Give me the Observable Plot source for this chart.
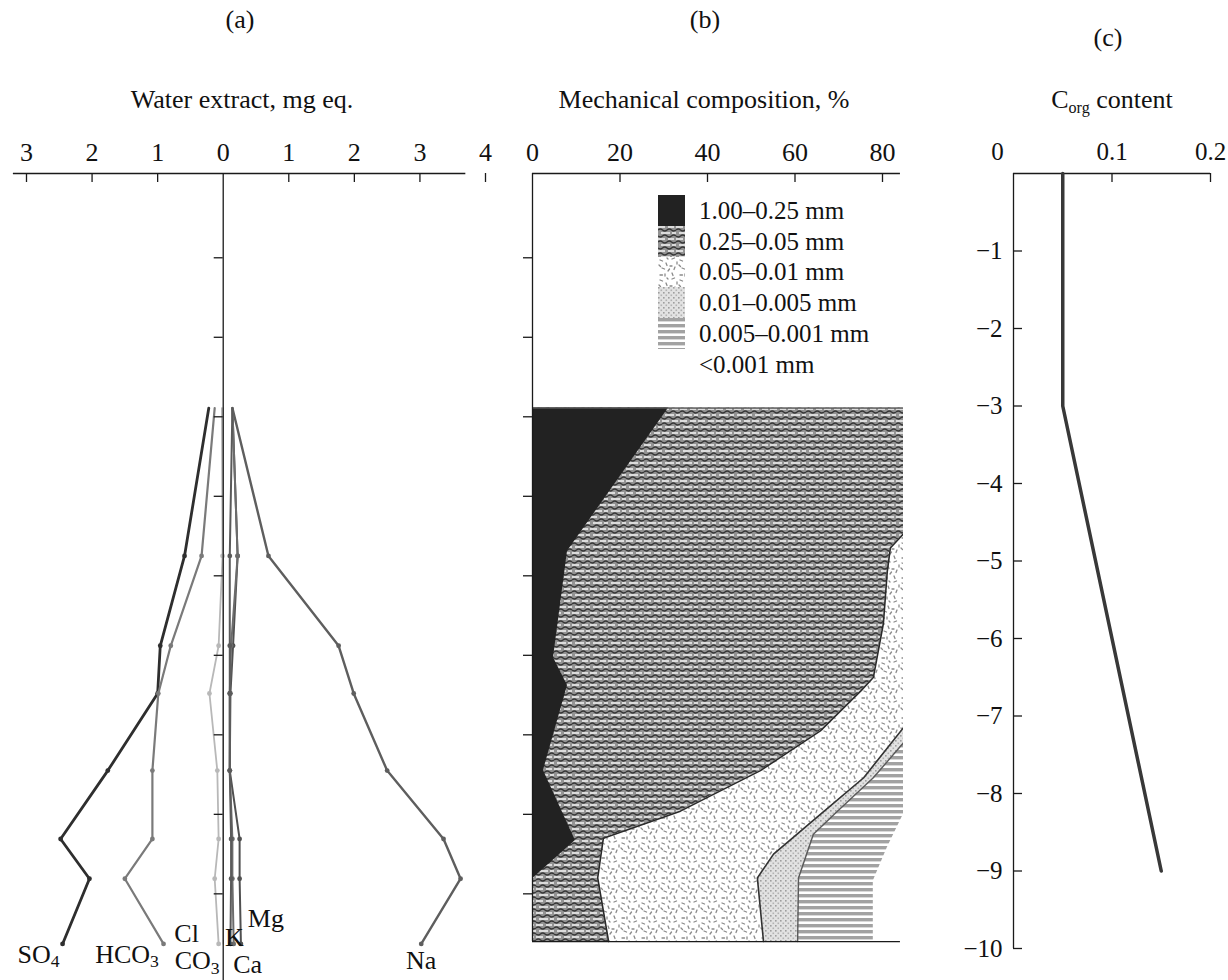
<!DOCTYPE html>
<html><head><meta charset="utf-8">
<script src="https://cdn.jsdelivr.net/npm/d3@7"></script>
<script src="https://cdn.jsdelivr.net/npm/@observablehq/plot@0.6"></script>
<style>
body{margin:0;background:#fff;font-family:"Liberation Serif","Times New Roman",serif;color:#111;}
#root{position:relative;width:1228px;height:980px;overflow:hidden;background:#fff;}
.lbl{position:absolute;transform:translate(-50%,-50%);font-size:26px;line-height:1;white-space:nowrap;}
.lbl sub{font-size:0.62em;vertical-align:-0.3em;line-height:0;}
.panel{position:absolute;top:0;}
#legend{position:absolute;left:658px;top:195px;}
.row{display:flex;align-items:center;height:30.8px;}
.sw{width:27px;height:31px;margin-right:14px;flex:none;display:block}
.row span{font-size:25px;line-height:1}
</style></head>
<body><div id="root">
<svg width="0" height="0" style="position:absolute;left:0;top:0"><defs>
<pattern id="pCoarse" patternUnits="userSpaceOnUse" width="18" height="12">
  <rect width="18" height="12" fill="#939393"/>
  <path d="M0 1 H7 M10 1 H16 M3 7 H12 M14 7 H18" stroke="#f4f4f4" stroke-width="1.4"/>
  <path d="M0 4 q2.2 -2 4.5 0 t4.5 0 t4.5 0 t4.5 0 M0 10 q2.2 2 4.5 0 t4.5 0 t4.5 0 t4.5 0" stroke="#363636" stroke-width="1.3" fill="none"/>
</pattern>
<pattern id="pSpeck" patternUnits="userSpaceOnUse" width="20" height="20">
  <rect width="20" height="20" fill="#fff"/>
  <path d="M2 3 l2.5 1 M8 6 l1 2.5 M14 2 l2.5 -1 M17 10 l-1 2.5 M4 11 l2.5 1 M10 14 l1.5 -2 M2 18 l2.5 0 M14 16 l1 2.5 M9 1 l1 1 M12 9 l2 0 M7 17 l0 2 M19 5 l0 2 M1 8 l1.5 1.5" stroke="#8a8a8a" stroke-width="1.3" stroke-linecap="round"/>
</pattern>
<pattern id="pStipple" patternUnits="userSpaceOnUse" width="5" height="5">
  <rect width="5" height="5" fill="#e2e2e2"/>
  <rect x="0" y="0" width="1.6" height="1.6" fill="#9e9e9e"/>
  <rect x="2.5" y="2.5" width="1.6" height="1.6" fill="#b2b2b2"/>
</pattern>
<pattern id="pLines" patternUnits="userSpaceOnUse" width="10" height="6">
  <rect width="10" height="6" fill="#fff"/>
  <rect y="0" width="10" height="3.4" fill="#a2a2a2"/>
</pattern>
</defs></svg>
</div>
<script>
// ---------- Panel (a): water extract, mg eq. ----------
const depthA = [-2.89, -4.75, -5.88, -6.48, -7.45, -8.31, -8.81, -9.63];
const so4  = [0.22, 0.59, 0.96, 1.00, 1.76, 2.48, 2.04, 2.45];
const hco3 = [0.13, 0.33, 0.80, 0.99, 1.08, 1.08, 1.50, 0.91];
const cl   = [0.02, 0.01, 0.07, 0.21, 0.09, 0.07, 0.13, 0.07];
const co3  = [0, 0, 0, 0, 0, 0, 0, 0];
const na   = [0.14, 0.69, 1.76, 1.99, 2.50, 3.36, 3.62, 3.02];
const mg   = [0.14, 0.22, 0.15, 0.11, 0.10, 0.25, 0.25, 0.27];
const ca   = [0.14, 0.22, 0.12, 0.10, 0.10, 0.14, 0.14, 0.16];
const k    = [0.14, 0.10, 0.10, 0.10, 0.10, 0.12, 0.12, 0.11];
const anionNames = ["SO4", "HCO3", "Cl", "CO3"];
const cationNames = ["Na", "Mg", "Ca", "K"];
const xTicksA = [-3, -2, -1, 0, 1, 2, 3, 4];
const depthTicksAB = [-1, -2, -3, -4, -5, -6, -7, -8, -9];

// ---------- Panel (b): mechanical composition, % (cumulative right edges) ----------
const fractionNames = ["1.00–0.25 mm", "0.25–0.05 mm", "0.05–0.01 mm", "0.01–0.005 mm", "0.005–0.001 mm", "<0.001 mm"];
const edge1Depth = [-2.89, -4.69, -6.03, -6.38, -7.45, -8.33, -8.80, -9.60];
const edge1Pct   = [31.1, 8.0, 4.8, 8.0, 2.5, 9.8, 0.2, 0];
const edge2Depth = [-2.89, -4.47, -4.65, -4.94, -5.60, -6.28, -6.45, -6.95, -7.45, -7.96, -8.30, -8.80, -9.60];
const edge2Pct   = [92, 84.8, 81.8, 81.1, 80.2, 77.9, 75.0, 65.8, 52.1, 33.8, 16.2, 14.9, 17.4];
const edge3Depth = [-2.89, -6.91, -7.54, -8.00, -8.50, -8.80, -9.60];
const edge3Pct   = [100, 84.8, 75.7, 65.8, 55.1, 51.4, 52.8];
const edge4Depth = [-2.89, -7.10, -7.54, -7.96, -8.25, -8.80, -9.60];
const edge4Pct   = [100, 84.8, 77.9, 69.7, 64.2, 60.8, 60.6];
const edge5Depth = [-2.89, -8.00, -8.42, -8.84, -9.60];
const edge5Pct   = [100, 84.8, 81.1, 77.9, 77.9];
const xTicksB = [0, 20, 40, 60, 80];

// ---------- Panel (c): Corg content ----------
const corgDepth = [0, -3, -9];
const corg = [0.05, 0.05, 0.15];
const xTicksC = [0.1, 0.2];
const depthTicksC = [-1, -2, -3, -4, -5, -6, -7, -8, -9, -10];

// ---------- styles ----------
const ionStyle = {
  SO4: {stroke: "#2e2e2e", w: 2.8}, HCO3: {stroke: "#7a7a7a", w: 2.2}, Cl: {stroke: "#b8b8b8", w: 1.8}, CO3: {stroke: "#c8c8c8", w: 1.5},
  Na: {stroke: "#5e5e5e", w: 2.4}, Mg: {stroke: "#505050", w: 2.0}, Ca: {stroke: "#6c6c6c", w: 2.0}, K: {stroke: "#5a5a5a", w: 2.0}
};
const labelOffset = {SO4: [-24, 10.5], HCO3: [-36.5, 10.5], Cl: [-32, -10], CO3: [-26, 17], K: [4, -6], Mg: [25, -25], Ca: [14, 21], Na: [0, 17]};
const fractionFill = ["#222", "url(#pCoarse)", "url(#pSpeck)", "url(#pStipple)", "url(#pLines)", "none"];
const AX = "#1a1a1a";
const FONT = '"Liberation Serif","Times New Roman",serif';

const root = document.getElementById("root");
function place(el, left) { el.classList.add("panel"); el.style.left = left + "px"; root.appendChild(el); }
function label(html, cx, cy) { const d = document.createElement("div"); d.className = "lbl"; d.innerHTML = html; d.style.left = cx + "px"; d.style.top = cy + "px"; root.appendChild(d); }

// ----- build ion table
const ionSeries = {SO4: so4, HCO3: hco3, Cl: cl, CO3: co3, Na: na, Mg: mg, Ca: ca, K: k};
const ionRows = [];
for (const name of anionNames) depthA.forEach((d, i) => ionRows.push({ion: name, depth: d, v: -ionSeries[name][i]}));
for (const name of cationNames) depthA.forEach((d, i) => ionRows.push({ion: name, depth: d, v: ionSeries[name][i]}));

const Y_TOP = 0.06, Y_BOT = -10.09;

const marksA = [];
for (const name of [...anionNames, ...cationNames]) {
  const rows = ionRows.filter(r => r.ion === name);
  const s = ionStyle[name];
  marksA.push(Plot.line(rows, {x: "v", y: "depth", stroke: s.stroke, strokeWidth: s.w}));
  if (name !== "CO3") marksA.push(Plot.dot(rows.slice(1), {x: "v", y: "depth", r: 2.4, fill: s.stroke}));
}
marksA.push(
  Plot.ruleY([Y_TOP], {x1: -3.2, x2: 3.7, stroke: AX, strokeWidth: 1.3}),
  Plot.ruleX(xTicksA.filter(d => d !== 0), {x: d => d, y1: Y_TOP, y2: Y_TOP, insetBottom: -9, stroke: AX, strokeWidth: 1.3}),
  Plot.axisX({anchor: "top", ticks: xTicksA, tickSize: 0, tickPadding: 13, label: null, tickFormat: d => String(Math.abs(d))}),
  Plot.ruleX([0], {stroke: AX, strokeWidth: 1.3}),
  Plot.ruleY(depthTicksAB, {y: d => d, x1: 0, x2: 0, insetLeft: -9, stroke: AX, strokeWidth: 1.3})
);
for (const name of [...anionNames, ...cationNames]) {
  const rows = ionRows.filter(r => r.ion === name);
  const last = rows[rows.length - 1];
  const [dx, dy] = labelOffset[name];
  marksA.push(Plot.text([last], {x: "v", y: "depth", text: d => d.ion, dx, dy, fontSize: 26, fill: "#111"}));
}
const plotA = Plot.plot({
  width: 500, height: 980, marginLeft: 26, marginRight: 15, marginTop: 173, marginBottom: 0,
  x: {domain: [-3, 4], label: null}, y: {domain: [Y_BOT, Y_TOP], axis: null, label: null},
  style: {fontFamily: FONT, fontSize: "26px", background: "transparent", overflow: "visible", color: "#111"},
  marks: marksA
});
const ionSet = new Set([...anionNames, ...cationNames]);
d3.select(plotA).selectAll("text").each(function () {
  const t = this.textContent;
  if (!ionSet.has(t)) return;
  const m = t.match(/^(\D+)(\d)$/);
  if (m) {
    this.textContent = "";
    const a = document.createElementNS("http://www.w3.org/2000/svg", "tspan"); a.textContent = m[1]; this.appendChild(a);
    const b = document.createElementNS("http://www.w3.org/2000/svg", "tspan"); b.textContent = m[2];
    b.setAttribute("dy", "0.25em"); b.setAttribute("font-size", "0.68em"); this.appendChild(b);
  }
});
place(plotA, 0);

// ----- panel b
const edges = [
  edge1Depth.map((d, i) => ({depth: d, v: edge1Pct[i]})),
  edge2Depth.map((d, i) => ({depth: d, v: edge2Pct[i]})),
  edge3Depth.map((d, i) => ({depth: d, v: edge3Pct[i]})),
  edge4Depth.map((d, i) => ({depth: d, v: edge4Pct[i]})),
  edge5Depth.map((d, i) => ({depth: d, v: edge5Pct[i]}))
];
const bottomB = edge1Depth[edge1Depth.length - 1];
const marksB = [];
for (let j = 4; j >= 0; j--) marksB.push(Plot.areaX(edges[j], {y: "depth", x1: 0, x2: "v", fill: fractionFill[j], clip: true}));
marksB.push(Plot.ruleY([edge1Depth[0]], {x1: 0, x2: 84.8, stroke: "#555", strokeWidth: 1.2, clip: true}));
marksB.push(Plot.lineX(edges[1], {x: "v", y: "depth", stroke: "#2a2a2a", strokeWidth: 1.6, clip: true}));
marksB.push(Plot.lineX(edges[2], {x: "v", y: "depth", stroke: "#333", strokeWidth: 1.6, clip: true}));
marksB.push(Plot.lineX(edges[3], {x: "v", y: "depth", stroke: "#5a5a5a", strokeWidth: 1.4, clip: true}));
marksB.push(
  Plot.ruleY([Y_TOP], {x1: 0, x2: 84.1, stroke: AX, strokeWidth: 1.3}),
  Plot.ruleY([bottomB], {x1: 0, x2: 84.1, stroke: AX, strokeWidth: 1.3}),
  Plot.ruleX([0], {y1: Y_TOP, y2: bottomB, stroke: AX, strokeWidth: 1.3}),
  Plot.ruleX(xTicksB.filter(d => d !== 0), {x: d => d, y1: Y_TOP, y2: Y_TOP, insetBottom: -9, stroke: AX, strokeWidth: 1.3}),
  Plot.ruleY(depthTicksAB, {y: d => d, x1: 0, x2: 0, insetLeft: -9, stroke: AX, strokeWidth: 1.3}),
  Plot.axisX({anchor: "top", ticks: xTicksB, tickSize: 0, tickPadding: 13, label: null, tickFormat: d => String(d)})
);
const plotB = Plot.plot({
  width: 420, height: 980, marginLeft: 32, marginRight: 17, marginTop: 173, marginBottom: 0,
  x: {domain: [0, 84.8], label: null}, y: {domain: [Y_BOT, Y_TOP], axis: null, label: null},
  style: {fontFamily: FONT, fontSize: "26px", background: "transparent", overflow: "visible", color: "#111"},
  marks: marksB
});
place(plotB, 500);

// legend (b)
const legend = document.createElement("div"); legend.id = "legend";
fractionNames.forEach((name, i) => {
  const row = document.createElement("div"); row.className = "row";
  const sw = fractionFill[i] === "none" ? '<svg class="sw"></svg>'
    : `<svg class="sw" viewBox="0 0 27 31"><rect width="27" height="31" fill="${fractionFill[i]}"/></svg>`;
  row.innerHTML = sw + `<span>${name.replace("<", "&lt;")}</span>`;
  legend.appendChild(row);
});
root.appendChild(legend);

// ----- panel c
const corgRows = corgDepth.map((d, i) => ({depth: d, v: corg[i]}));
const plotC = Plot.plot({
  width: 298, height: 980, marginLeft: 83, marginRight: 18, marginTop: 173, marginBottom: 32,
  x: {domain: [0, 0.2], label: null}, y: {domain: [-10, 0], label: null},
  style: {fontFamily: FONT, fontSize: "25px", background: "transparent", overflow: "visible", color: "#111"},
  marks: [
    Plot.ruleY([0], {stroke: AX, strokeWidth: 1.3}),
    Plot.ruleX([0], {stroke: AX, strokeWidth: 1.3}),
    Plot.ruleX(xTicksC, {x: d => d, y1: 0, y2: 0, insetBottom: -9, stroke: AX, strokeWidth: 1.3}),
    Plot.ruleY(depthTicksC, {y: d => d, x1: 0, x2: 0, insetRight: -9, stroke: AX, strokeWidth: 1.3}),
    Plot.axisX({anchor: "top", ticks: xTicksC, tickSize: 0, tickPadding: 14, label: null, tickFormat: d => String(d)}),
    Plot.text([0], {x: d => d, frameAnchor: "top", lineAnchor: "bottom", dy: -14, dx: -16, text: d => String(d)}),
    Plot.axisY({anchor: "left", ticks: depthTicksC, tickSize: 0, tickPadding: 11, label: null, tickFormat: d => "−" + Math.abs(d)}),
    Plot.line(corgRows, {x: "v", y: "depth", stroke: "#383838", strokeWidth: 3.5})
  ]
});
place(plotC, 930);

// ----- titles
label("(a)", 240, 20);
label("(b)", 705, 20);
label("(c)", 1108, 38);
label("Water extract, mg eq.", 242, 100);
label("Mechanical composition, %", 704, 100);
label("C<sub>org</sub> content", 1112, 100);
</script>
</body></html>
